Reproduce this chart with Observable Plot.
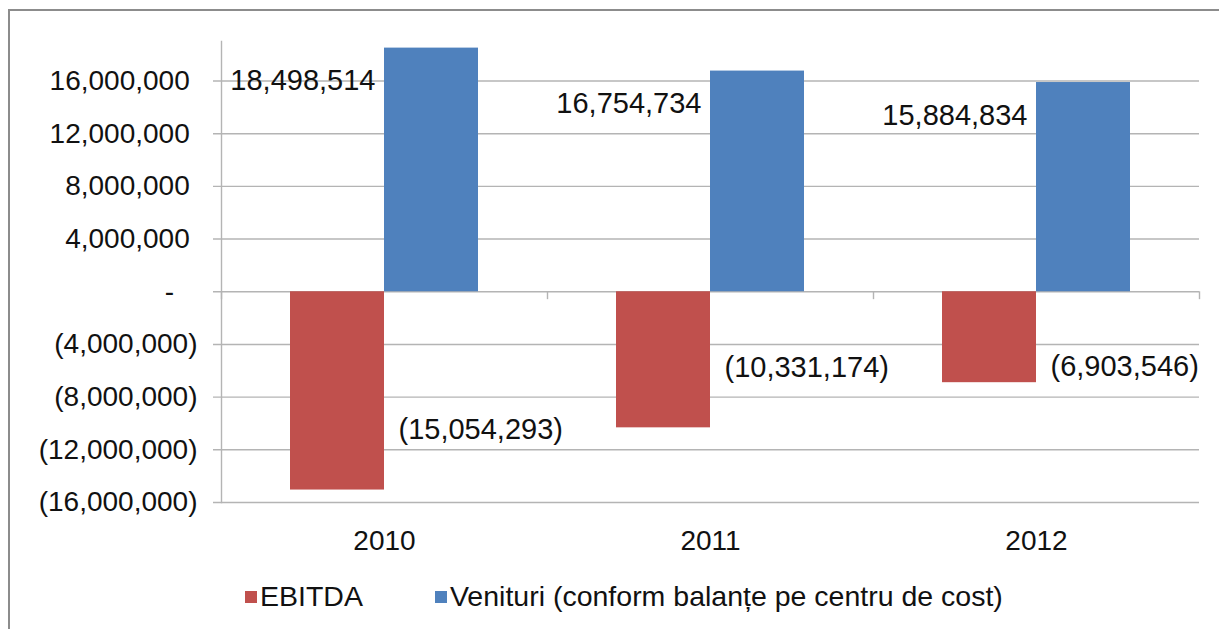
<!DOCTYPE html>
<html>
<head>
<meta charset="utf-8">
<script src="https://cdn.jsdelivr.net/npm/d3@7"></script>
<script src="https://cdn.jsdelivr.net/npm/@observablehq/plot@0.6"></script>
<style>
  html, body { margin: 0; padding: 0; background: #fff; }
  #wrap { position: relative; width: 1219px; height: 629px; overflow: hidden; font-family: "Liberation Sans", Arial, sans-serif; }
  #border { position: absolute; left: 8px; top: 9px; width: 1240px; height: 660px; border: 2.5px solid #8c8c8c; box-sizing: border-box; }
  #chart { position: absolute; left: 0; top: 0; }
  #legend { position: absolute; left: 245px; top: 580px; display: flex; align-items: center; font-size: 28.5px; color: #111; white-space: nowrap; }
  .sw { display: inline-block; width: 12px; height: 12px; margin-right: 3px; }
  .item { display: flex; align-items: center; margin-right: 72px; }
</style>
</head>
<body>
<div id="wrap">
  <div id="border"></div>
  <div id="chart"></div>
  <div id="legend"></div>
</div>
<script>
const years = ["2010", "2011", "2012"];
const ebitda = [-15054293, -10331174, -6903546];
const venituri = [18498514, 16754734, 15884834];
const yTicks = [-16000000, -12000000, -8000000, -4000000, 0, 4000000, 8000000, 12000000, 16000000];
const seriesNames = ["EBITDA", "Venituri (conform balanțe pe centru de cost)"];
const seriesColors = ["#C0504D", "#4F81BD"];

const rows = years.map((year, i) => ({year, ebitda: ebitda[i], venituri: venituri[i]}));

const num = d3.format(",");
const tickFmt = d => d === 0 ? "-\u00a0\u00a0\u00a0" : d < 0 ? `(${num(-d)})` : `${num(d)}\u00a0`;
const labelFmt = d => d < 0 ? `(${num(-d)})` : num(d);

const W = 1219, ML = 221, MR = 20;
const half = (W - ML - MR) / years.length / 2;
const grid = "#b4b4b4";

const chart = Plot.plot({
  width: W,
  height: 560,
  marginLeft: ML,
  marginRight: MR,
  marginTop: 41,
  marginBottom: 58,
  style: {fontFamily: "'Liberation Sans', Arial, sans-serif", fontSize: "28px", color: "#111", background: "transparent"},
  x: {domain: years, padding: 0, axis: null, label: null},
  y: {domain: [-16000000, 19000000], axis: null, label: null},
  marks: [
    Plot.ruleY(yTicks, {stroke: grid, strokeWidth: 1.4, insetLeft: -8}),
    Plot.axisY({ticks: yTicks, tickSize: 0, tickPadding: 24, tickFormat: tickFmt, fontSize: 28, label: null}),
    Plot.frame({anchor: "left", stroke: grid, strokeWidth: 1.4}),
    Plot.ruleX(years, {x: d => d, dx: -half, y1: 0, y2: -600000, stroke: grid, strokeWidth: 1.4}),
    Plot.ruleX([years[years.length - 1]], {x: d => d, dx: half, y1: 0, y2: -600000, stroke: grid, strokeWidth: 1.4}),
    Plot.barY(rows, {x: "year", y: "ebitda", fill: seriesColors[0], insetLeft: half - 94, insetRight: half}),
    Plot.barY(rows, {x: "year", y: "venituri", fill: seriesColors[1], insetLeft: half, insetRight: half - 94}),
    Plot.axisX({anchor: "bottom", tickSize: 0, tickPadding: 28, fontSize: 28, label: null}),
    Plot.text(rows, {x: "year", y: d => d.venituri - 2500000, text: d => labelFmt(d.venituri), textAnchor: "end", dx: -9, fill: "#111", fontSize: 29}),
    Plot.text(rows, {x: "year", y: d => Math.min(d.ebitda + 4600000, -5700000), text: d => labelFmt(d.ebitda), textAnchor: "start", dx: 14, fill: "#111", fontSize: 29})
  ]
});
document.getElementById("chart").appendChild(chart);

const legend = document.getElementById("legend");
seriesNames.forEach((name, i) => {
  const item = document.createElement("span");
  item.className = "item";
  const sw = document.createElement("span");
  sw.className = "sw";
  sw.style.background = seriesColors[i];
  item.appendChild(sw);
  item.appendChild(document.createTextNode(name));
  legend.appendChild(item);
});
</script>
</body>
</html>
